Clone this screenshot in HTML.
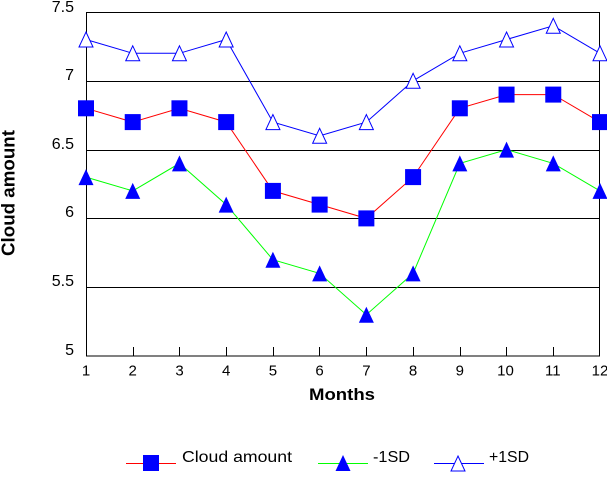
<!DOCTYPE html>
<html>
<head>
<meta charset="utf-8">
<style>
  html, body { margin: 0; padding: 0; background: #fff; }
  svg { display: block; }
  text { font-family: "Liberation Sans", Arial, sans-serif; fill: #000; }
</style>
</head>
<body>
<svg width="607" height="478" viewBox="0 0 607 478" xmlns="http://www.w3.org/2000/svg">
  <defs>
    <rect id="sq" x="-8" y="-8" width="16" height="16" fill="#0000ff"/>
    <path id="ft" d="M0,-8 L7.5,8 L-7.5,8 Z" fill="#0000ff"/>
    <path id="ot" d="M0,-7.5 L7,7.5 L-7,7.5 Z" fill="#ffffff" stroke="#0000ff" stroke-width="1"/>
  </defs>

  <!-- gridlines -->
  <g stroke="#000" stroke-width="1" shape-rendering="crispEdges">
    <line x1="86" y1="81.5" x2="600" y2="81.5"/>
    <line x1="86" y1="150.5" x2="600" y2="150.5"/>
    <line x1="86" y1="218.5" x2="600" y2="218.5"/>
    <line x1="86" y1="287.5" x2="600" y2="287.5"/>
    <!-- frame -->
    <rect x="86.5" y="12.5" width="513" height="343.5" fill="none"/>
    <!-- x ticks -->
    <line x1="133.5" y1="347" x2="133.5" y2="356"/>
    <line x1="179.5" y1="347" x2="179.5" y2="356"/>
    <line x1="226.5" y1="347" x2="226.5" y2="356"/>
    <line x1="273.5" y1="347" x2="273.5" y2="356"/>
    <line x1="319.5" y1="347" x2="319.5" y2="356"/>
    <line x1="366.5" y1="347" x2="366.5" y2="356"/>
    <line x1="413.5" y1="347" x2="413.5" y2="356"/>
    <line x1="460.5" y1="347" x2="460.5" y2="356"/>
    <line x1="506.5" y1="347" x2="506.5" y2="356"/>
    <line x1="553.5" y1="347" x2="553.5" y2="356"/>
  </g>

  <!-- y tick labels -->
  <g font-size="16" text-anchor="end">
    <text x="74" y="12">7.5</text>
    <text x="74" y="80">7</text>
    <text x="74" y="149">6.5</text>
    <text x="74" y="217">6</text>
    <text x="74" y="286">5.5</text>
    <text x="74" y="355">5</text>
  </g>

  <!-- x tick labels -->
  <g font-size="15" text-anchor="middle">
    <text x="86" y="375.5">1</text>
    <text x="132.7" y="375.5">2</text>
    <text x="179.5" y="375.5">3</text>
    <text x="226.2" y="375.5">4</text>
    <text x="272.9" y="375.5">5</text>
    <text x="319.6" y="375.5">6</text>
    <text x="366.4" y="375.5">7</text>
    <text x="413.1" y="375.5">8</text>
    <text x="459.8" y="375.5">9</text>
    <text x="505.5" y="375.5">10</text>
    <text x="552.8" y="375.5">11</text>
    <text x="600" y="375.5">12</text>
  </g>

  <!-- axis titles -->
  <text x="342" y="400" font-size="17" font-weight="bold" text-anchor="middle" textLength="66" lengthAdjust="spacingAndGlyphs">Months</text>
  <text transform="translate(14.5,193) rotate(-90)" x="0" y="0" font-size="18" font-weight="bold" text-anchor="middle" textLength="126" lengthAdjust="spacingAndGlyphs">Cloud amount</text>

  <!-- series lines -->
  <polyline fill="none" stroke="#0000ff" stroke-width="1"
    points="86,39.5 132.73,53.3 179.45,53.3 226.18,39.5 272.91,122.1 319.64,135.8 366.36,122.1 413.09,80.8 459.82,53.3 506.55,39.5 553.27,25.8 600,53.3"/>
  <polyline fill="none" stroke="#ff0000" stroke-width="1"
    points="86,108.3 132.73,122.1 179.45,108.3 226.18,122.1 272.91,190.9 319.64,204.6 366.36,218.4 413.09,177.1 459.82,108.3 506.55,94.6 553.27,94.6 600,122.1"/>
  <polyline fill="none" stroke="#00ff00" stroke-width="1"
    points="86,177.1 132.73,190.9 179.45,163.4 226.18,204.6 272.91,259.7 319.64,273.4 366.36,314.7 413.09,273.4 459.82,163.4 506.55,149.6 553.27,163.4 600,190.9"/>

  <!-- +1SD markers -->
  <use href="#ot" x="86" y="39.5"/>
  <use href="#ot" x="132.73" y="53.3"/>
  <use href="#ot" x="179.45" y="53.3"/>
  <use href="#ot" x="226.18" y="39.5"/>
  <use href="#ot" x="272.91" y="122.1"/>
  <use href="#ot" x="319.64" y="135.8"/>
  <use href="#ot" x="366.36" y="122.1"/>
  <use href="#ot" x="413.09" y="80.8"/>
  <use href="#ot" x="459.82" y="53.3"/>
  <use href="#ot" x="506.55" y="39.5"/>
  <use href="#ot" x="553.27" y="25.8"/>
  <use href="#ot" x="600" y="53.3"/>

  <!-- Cloud amount markers -->
  <use href="#sq" x="86" y="108.3"/>
  <use href="#sq" x="132.73" y="122.1"/>
  <use href="#sq" x="179.45" y="108.3"/>
  <use href="#sq" x="226.18" y="122.1"/>
  <use href="#sq" x="272.91" y="190.9"/>
  <use href="#sq" x="319.64" y="204.6"/>
  <use href="#sq" x="366.36" y="218.4"/>
  <use href="#sq" x="413.09" y="177.1"/>
  <use href="#sq" x="459.82" y="108.3"/>
  <use href="#sq" x="506.55" y="94.6"/>
  <use href="#sq" x="553.27" y="94.6"/>
  <use href="#sq" x="600" y="122.1"/>

  <!-- -1SD markers -->
  <use href="#ft" x="86" y="177.1"/>
  <use href="#ft" x="132.73" y="190.9"/>
  <use href="#ft" x="179.45" y="163.4"/>
  <use href="#ft" x="226.18" y="204.6"/>
  <use href="#ft" x="272.91" y="259.7"/>
  <use href="#ft" x="319.64" y="273.4"/>
  <use href="#ft" x="366.36" y="314.7"/>
  <use href="#ft" x="413.09" y="273.4"/>
  <use href="#ft" x="459.82" y="163.4"/>
  <use href="#ft" x="506.55" y="149.6"/>
  <use href="#ft" x="553.27" y="163.4"/>
  <use href="#ft" x="600" y="190.9"/>

  <!-- legend -->
  <g shape-rendering="crispEdges">
    <line x1="126" y1="463.5" x2="176" y2="463.5" stroke="#ff0000" stroke-width="1"/>
    <line x1="318" y1="463.5" x2="368" y2="463.5" stroke="#00ff00" stroke-width="1"/>
    <line x1="434" y1="463.5" x2="484" y2="463.5" stroke="#0000ff" stroke-width="1"/>
  </g>
  <use href="#sq" x="151" y="463"/>
  <use href="#ft" x="343" y="463"/>
  <use href="#ot" x="458" y="463.5"/>
  <g font-size="16">
    <text x="182" y="462" textLength="110" lengthAdjust="spacingAndGlyphs">Cloud amount</text>
    <text x="373" y="462" textLength="37" lengthAdjust="spacingAndGlyphs">-1SD</text>
    <text x="489" y="462" textLength="40" lengthAdjust="spacingAndGlyphs">+1SD</text>
  </g>
</svg>
</body>
</html>
